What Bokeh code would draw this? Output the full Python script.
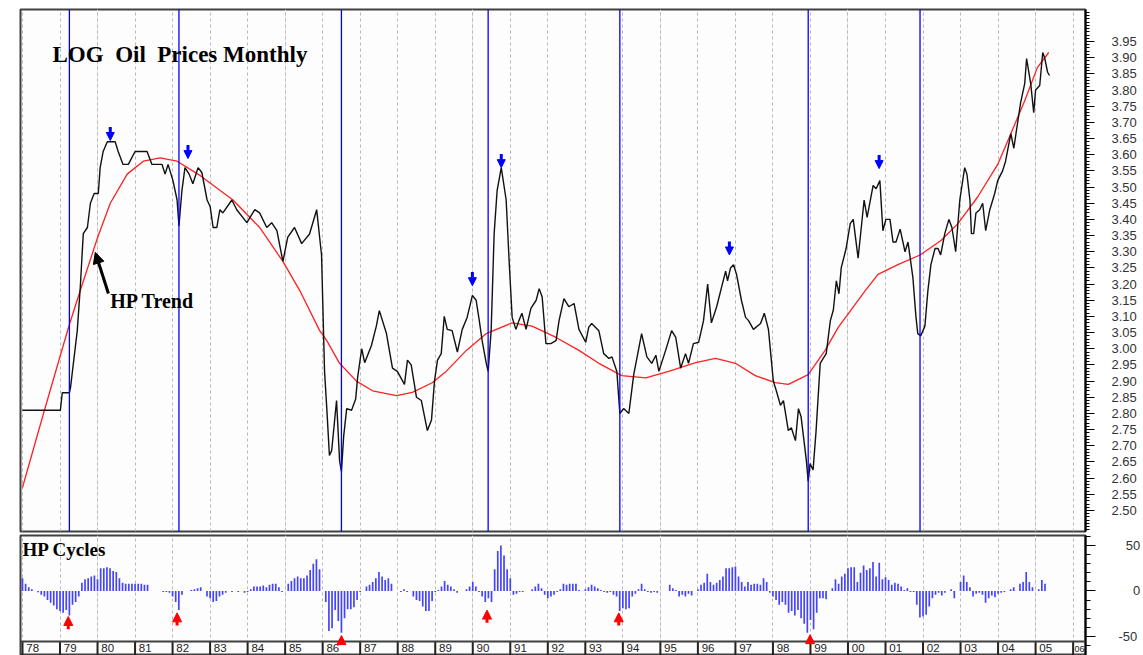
from bokeh.plotting import figure
from bokeh.layouts import column
from bokeh.models import (ColumnDataSource, FixedTicker, Span, Label, Arrow, NormalHead,
                          Range1d, Grid, NumeralTickFormatter)
from bokeh.core.properties import value
from bokeh.embed import file_html
from bokeh.resources import INLINE

# ---------------- data ----------------
price_years = [
    1978.00, 1979.01, 1979.06, 1979.25, 1979.28, 1979.46, 1979.54, 1979.62, 1979.73, 1979.81, 1979.91,
    1980.02, 1980.07, 1980.15, 1980.26, 1980.47, 1980.55, 1980.68, 1980.82, 1981.00, 1981.32, 1981.45,
    1981.72, 1981.80, 1981.88, 1982.01, 1982.12, 1982.17, 1982.25, 1982.33, 1982.44, 1982.54, 1982.68,
    1982.78, 1982.92, 1983.00, 1983.08, 1983.18, 1983.26, 1983.34, 1983.58, 1983.71, 1983.98, 1984.19,
    1984.32, 1984.51, 1984.64, 1984.78, 1984.94, 1985.07, 1985.25, 1985.44, 1985.65, 1985.84, 1985.97,
    1986.05, 1986.11, 1986.18, 1986.24, 1986.37, 1986.45, 1986.50, 1986.56, 1986.64, 1986.77, 1986.88,
    1986.93, 1987.04, 1987.12, 1987.30, 1987.43, 1987.51, 1987.70, 1987.86, 1987.99, 1988.18, 1988.26,
    1988.36, 1988.50, 1988.63, 1988.79, 1988.90, 1988.98, 1989.06, 1989.16, 1989.24, 1989.32, 1989.45,
    1989.59, 1989.72, 1989.85, 1989.99, 1990.09, 1990.17, 1990.25, 1990.36, 1990.41, 1990.49, 1990.57,
    1990.65, 1990.76, 1990.89, 1990.97, 1991.05, 1991.15, 1991.23, 1991.31, 1991.42, 1991.55, 1991.69,
    1991.77, 1991.85, 1991.95, 1992.08, 1992.22, 1992.30, 1992.43, 1992.56, 1992.70, 1992.83, 1993.01,
    1993.09, 1993.17, 1993.36, 1993.49, 1993.63, 1993.71, 1993.84, 1993.92, 1994.02, 1994.16, 1994.29,
    1994.50, 1994.64, 1994.77, 1994.88, 1994.96, 1995.14, 1995.30, 1995.41, 1995.54, 1995.67, 1995.75,
    1995.88, 1996.02, 1996.15, 1996.26, 1996.36, 1996.50, 1996.63, 1996.74, 1996.79, 1996.87, 1996.95,
    1997.03, 1997.16, 1997.27, 1997.35, 1997.48, 1997.67, 1997.77, 1997.88, 1998.01, 1998.09, 1998.20,
    1998.28, 1998.41, 1998.49, 1998.60, 1998.68, 1998.75, 1998.89, 1998.94, 1998.99, 1999.07, 1999.15,
    1999.26, 1999.34, 1999.42, 1999.53, 1999.61, 1999.69, 1999.76, 1999.82, 1999.95, 2000.06, 2000.14,
    2000.27, 2000.43, 2000.51, 2000.67, 2000.75, 2000.85, 2000.93, 2001.01, 2001.12, 2001.20, 2001.28,
    2001.39, 2001.52, 2001.60, 2001.73, 2001.81, 2001.86, 2001.94, 2002.05, 2002.13, 2002.21, 2002.32,
    2002.40, 2002.47, 2002.58, 2002.69, 2002.77, 2002.87, 2002.98, 2003.11, 2003.17, 2003.25, 2003.29,
    2003.35, 2003.41, 2003.51, 2003.59, 2003.67, 2003.78, 2003.91, 2003.99, 2004.12, 2004.20, 2004.34,
    2004.42, 2004.49, 2004.60, 2004.71, 2004.76, 2004.87, 2004.95, 2005.00, 2005.11, 2005.19, 2005.24,
    2005.32, 2005.37]
log_price = [
    2.81, 2.81, 2.864, 2.864, 2.88, 3.056, 3.19, 3.356, 3.375, 3.45, 3.48,
    3.48, 3.56, 3.61, 3.64, 3.64, 3.61, 3.57, 3.57, 3.61, 3.61, 3.57,
    3.57, 3.54, 3.57, 3.52, 3.46, 3.38, 3.49, 3.56, 3.54, 3.51, 3.56,
    3.545, 3.46, 3.44, 3.375, 3.375, 3.43, 3.42, 3.46, 3.43, 3.39, 3.43,
    3.42, 3.375, 3.39, 3.365, 3.27, 3.345, 3.375, 3.325, 3.355, 3.43, 3.29,
    2.93, 2.815, 2.67, 2.685, 2.84, 2.655, 2.62, 2.73, 2.815, 2.81, 2.845,
    2.91, 3.00, 2.957, 3.01, 3.07, 3.118, 3.047, 2.94, 2.93, 2.89, 2.965,
    2.95, 2.85, 2.84, 2.747, 2.78, 2.90, 2.965, 2.985, 3.10, 3.06, 3.056,
    2.99, 3.06, 3.097, 3.165, 3.15, 3.09, 3.025, 2.955, 2.93, 3.056, 3.356,
    3.49, 3.56, 3.46, 3.27, 3.097, 3.06, 3.087, 3.11, 3.06, 3.125, 3.15,
    3.186, 3.16, 3.016, 3.016, 3.025, 3.087, 3.155, 3.13, 3.14, 3.06, 3.02,
    3.066, 3.078, 3.056, 2.985, 2.97, 2.975, 2.93, 2.80, 2.815, 2.80, 2.92,
    3.047, 2.975, 2.955, 2.98, 2.93, 2.995, 3.056, 3.035, 2.94, 2.985, 2.955,
    3.016, 3.02, 3.087, 3.20, 3.08, 3.13, 3.19, 3.24, 3.21, 3.25, 3.26,
    3.23, 3.15, 3.097, 3.087, 3.06, 3.078, 3.11, 3.06, 2.90, 2.87, 2.825,
    2.84, 2.747, 2.756, 2.716, 2.815, 2.79, 2.655, 2.59, 2.645, 2.625, 2.747,
    2.955, 2.97, 2.985, 3.087, 3.12, 3.21, 3.17, 3.25, 3.31, 3.387, 3.40,
    3.28, 3.46, 3.406, 3.505, 3.495, 3.52, 3.365, 3.40, 3.40, 3.33, 3.33,
    3.37, 3.30, 3.33, 3.22, 3.10, 3.047, 3.04, 3.07, 3.18, 3.26, 3.31,
    3.31, 3.29, 3.356, 3.40, 3.375, 3.30, 3.46, 3.56, 3.54, 3.46, 3.356,
    3.356, 3.42, 3.43, 3.45, 3.365, 3.43, 3.48, 3.52, 3.55, 3.58, 3.665,
    3.62, 3.675, 3.76, 3.82, 3.897, 3.82, 3.73, 3.80, 3.814, 3.916, 3.90,
    3.855, 3.845]

trend_years = [1978.00, 1978.56, 1979.01, 1979.25, 1979.54, 1979.99, 1980.34, 1980.79, 1981.22,
               1981.67, 1982.12, 1982.73, 1983.61, 1984.32, 1984.94, 1985.39, 1985.92, 1986.11,
               1986.45, 1986.90, 1987.33, 1987.97, 1988.39, 1988.92, 1989.29, 1989.83, 1990.36,
               1991.05, 1991.58, 1992.22, 1992.83, 1993.36, 1993.97, 1994.61, 1995.22, 1995.94,
               1996.47, 1997.00, 1997.53, 1998.06, 1998.41, 1998.94, 1999.39, 1999.74, 2000.46,
               2000.80, 2001.33, 2001.92, 2002.48, 2002.93, 2003.46, 2003.99, 2004.34, 2004.71,
               2005.05, 2005.35]
hp_trend = [2.571, 2.80, 2.98, 3.075, 3.18, 3.34, 3.45, 3.54, 3.58,
            3.59, 3.58, 3.536, 3.46, 3.375, 3.27, 3.18, 3.056, 3.025,
            2.955, 2.90, 2.87, 2.855, 2.865, 2.895, 2.93, 2.995, 3.047,
            3.08, 3.07, 3.035, 2.995, 2.955, 2.917, 2.91, 2.93, 2.957,
            2.97, 2.955, 2.917, 2.895, 2.89, 2.92, 2.995, 3.066, 3.18,
            3.23, 3.26, 3.29, 3.335, 3.387, 3.47, 3.57, 3.665, 3.767,
            3.87, 3.916]

# HP cycle bars, monthly from Jan 1978
cycle_start_year = 1978
hp_cycles = [
    14, 8, 4, 2, 0, -1.5, -4, -6, -10, -13, -16, -20,          # 1978
    -22, -24, -21, -27, -15, -12, -6, 9, 13, 14, 16, 17,       # 1979
    13, 25, 25, 26, 25, 22, 21, 14, 9, 8, 8, 8,                # 1980
    8, 8, 8, 7, 7, 0, 0, 0, 0, -1, -1, -2,                     # 1981
    -6, -12, -21, -4, 0, 0, 1, 2, 3, 4, 0, -6,                 # 1982
    -8, -12, -11, -6, -4, -2, 0, -1, 0, -1, 0, -2,             # 1983
    -1, 2, 5, 5, 5, 6, 4, 7, 8, 8, 4, -1,                      # 1984
    0, 8, 11, 14, 16, 14, 14, 17, 23, 30, 35, 24,              # 1985
    0, -12, -44, -41, -21, -33, -46, -30, -20, -20, -18, -10,  # 1986
    -1, 0, 5, 7, 10, 14, 21, 16, 12, 14, 8, 0,                 # 1987
    0, -1, 2, -1, 0, -6, -10, -11, -17, -22, -22, -11,         # 1988
    -1, 1, 5, 11, 7, 5, 2, -2, 0, 0, 2, 5,                     # 1989
    10, 5, -1, -6, -12, -8, -12, 24, 44, 50, 39, 24,           # 1990
    14, -4, -3, -1, -1, 0, 0, 2, 5, 8, 3, -4,                  # 1991
    -8, -6, -4, -1, 2, 8, 7, 8, 8, 8, 1, 0,                    # 1992
    2, 4, 7, 5, 3, 1, -1, -2, -1, -4, -6, -22,                 # 1993
    -19, -20, -19, -6, -3, 2, 8, 2, -1, -2, -1, -2,            # 1994
    0, 0, 0, 7, 3, 1, -6, -4, -6, -3, -5, 0,                   # 1995
    2, 7, 9, 19, 10, 7, 9, 12, 16, 25, 25, 26,                 # 1996
    27, 16, 10, 5, 10, 7, 8, 8, 7, 14, 10, -2,                 # 1997
    -6, -10, -15, -12, -15, -24, -22, -27, -21, -30, -36, -46, # 1998
    -32, -42, -24, -8, -8, -9, 0, 3, 13, 8, 16, 19,            # 1999
    25, 26, 26, 10, 20, 28, 23, 25, 32, 16, 31, 13,            # 2000
    15, 12, 7, 9, 8, 5, 1, 3, -1, -1, -15, -29,                # 2001
    -28, -26, -17, -8, -4, -2, -5, -2, 0, 2, -8, 0,            # 2002
    10, 17, 10, 4, -6, -3, -2, -4, -13, -8, -5, -7,            # 2003
    -3, -2, -1, 0, 2, 4, 0, 8, 10, 21, 10, 4,                  # 2004
    0, 2, 12, 8]                                               # 2005
cycle_years = [cycle_start_year + i / 12 for i in range(len(hp_cycles))]

turning_years = [1979.25, 1982.17, 1986.50, 1990.41, 1993.92, 1998.94, 2001.92]
peak_arrow_years = [1980.34, 1982.41, 1989.99, 1990.76, 1996.84, 2000.83]
peak_arrow_tips = [3.644, 3.588, 3.195, 3.560, 3.290, 3.557]
trough_arrow_years = [1979.22, 1982.12, 1986.50, 1990.38, 1993.89, 1998.99]
trough_arrow_tips = [-28, -24, -49, -21, -24, -48]

year_ticks = list(range(1978, 2007))
year_labels = ["%02d" % (y % 100) for y in year_ticks]
price_ticks = [round(2.50 + 0.05 * k, 2) for k in range(30)]
price_minor = [round(2.44 + 0.01 * k, 2) for k in range(161)]
cycle_ticks = [-50, 0, 50]
cycle_tick_labels = {-50: "-50", 0: "\u2007\u20070", 50: "\u200750"}
cycle_minor = list(range(-60, 61, 10))

# ---------------- layout ----------------
W = 1143
x_range = Range1d(1977.947, 2006.33)
AX_FONT = "Liberation Sans"
FRAME_BG = "#fdfdfd"
BORDER = "#404040"

p = figure(width=W, height=533, x_range=x_range, y_range=Range1d(2.435, 4.049),
           x_axis_location=None, y_axis_location="right",
           output_backend="svg", toolbar_location=None,
           min_border_left=20, min_border_right=55, min_border_top=9, min_border_bottom=2,
           background_fill_color=FRAME_BG, border_fill_color="#ffffff")
p.outline_line_color = BORDER
p.outline_line_width = 2
p.ygrid.visible = False
p.add_layout(Grid(dimension=0, ticker=FixedTicker(ticks=year_ticks),
                  grid_line_color="#b8b8b8", grid_line_dash="3 3", grid_line_width=1))

ya = p.yaxis[0]
ya.ticker = FixedTicker(ticks=price_ticks, minor_ticks=price_minor)
ya.formatter = NumeralTickFormatter(format="0.00")
ya.axis_line_color = "#000000"
ya.axis_line_width = 2
ya.major_tick_out = 9
ya.major_tick_in = 0
ya.minor_tick_out = 4
ya.minor_tick_in = 0
ya.major_tick_line_color = "#000000"
ya.minor_tick_line_color = "#000000"
ya.major_label_standoff = 17
ya.major_label_text_font = AX_FONT
ya.major_label_text_font_size = "13px"
ya.major_label_text_color = "#333333"

for yr in turning_years:
    p.add_layout(Span(location=yr, dimension="height", line_color="#0000ff", line_width=1.3))

p.line(trend_years, hp_trend, line_color="#ff2020", line_width=1.3)
p.line(price_years, log_price, line_color="#111111", line_width=1.4)

peak_src = ColumnDataSource(dict(x=peak_arrow_years,
                                 y0=[t + 0.042 for t in peak_arrow_tips],
                                 y1=peak_arrow_tips))
p.add_layout(Arrow(source=peak_src, x_start="x", y_start="y0", x_end="x", y_end="y1",
                   line_color="#0000ff", line_width=3,
                   end=NormalHead(size=8, fill_color="#0000ff", line_color="#0000ff", line_width=1)))

p.add_layout(Arrow(x_start=1980.29, y_start=3.171, x_end=1979.94, y_end=3.298,
                   line_color="#000000", line_width=3,
                   end=NormalHead(size=11, fill_color="#000000", line_color="#000000", line_width=1)))

p.add_layout(Label(x=1978.80, y=3.91, text="LOG\u00a0 Oil\u00a0 Prices Monthly",
                   text_font="Liberation Serif", text_font_style="bold",
                   text_font_size="23px", text_baseline="middle", text_color="#000000"))
p.add_layout(Label(x=1980.34, y=3.149, text="HP Trend",
                   text_font="Liberation Serif", text_font_style="bold",
                   text_font_size="20px", text_baseline="middle", text_color="#000000"))

# lower panel: frame extends to the page bottom; the date strip lives below y = PANEL_BOTTOM
PANEL_BOTTOM = -55.5
q = figure(width=W, height=122, x_range=x_range, y_range=Range1d(-70.9, 61),
           x_axis_location=None, y_axis_location="right",
           output_backend="svg", toolbar_location=None,
           min_border_left=20, min_border_right=55, min_border_top=2, min_border_bottom=0,
           background_fill_color=FRAME_BG, border_fill_color="#ffffff")
q.outline_line_color = BORDER
q.outline_line_width = 2
q.ygrid.visible = False
q.add_layout(Grid(dimension=0, ticker=FixedTicker(ticks=year_ticks),
                  grid_line_color="#b8b8b8", grid_line_dash="3 3", grid_line_width=1))
q.add_layout(Span(location=PANEL_BOTTOM, dimension="width", line_color=BORDER, line_width=2))

qa = q.yaxis[0]
qa.ticker = FixedTicker(ticks=cycle_ticks, minor_ticks=cycle_minor)
qa.major_label_overrides = cycle_tick_labels
qa.axis_line_color = "#000000"
qa.axis_line_width = 2
qa.major_tick_out = 10
qa.major_tick_in = 0
qa.minor_tick_out = 5
qa.minor_tick_in = 0
qa.major_tick_line_color = "#000000"
qa.minor_tick_line_color = "#000000"
qa.major_label_standoff = 23
qa.major_label_text_font = AX_FONT
qa.major_label_text_font_size = "13px"
qa.major_label_text_color = "#333333"

q.vbar(x=cycle_years, top=hp_cycles, bottom=0, width=0.045,
       fill_color="#4444ff", line_color=None)

# date strip: separators and year labels
n = len(year_ticks)
q.segment(x0=year_ticks, y0=[PANEL_BOTTOM] * n, x1=year_ticks, y1=[-75] * n,
          line_color="#222222", line_width=2)
q.text(x=[y + 0.1 for y in year_ticks[:-1]], y=[-66.8] * (n - 1), text=year_labels[:-1],
       text_font=value(AX_FONT), text_font_size=value("11.5px"), text_color="#222222",
       text_align="left", text_baseline="bottom")
q.text(x=[year_ticks[-1] + 0.04], y=[-66.8], text=[year_labels[-1]],
       text_font=value(AX_FONT), text_font_size=value("9px"), text_color="#222222",
       text_align="left", text_baseline="bottom")

trough_src = ColumnDataSource(dict(x=trough_arrow_years,
                                   y0=[max(t - 14, PANEL_BOTTOM) for t in trough_arrow_tips],
                                   y1=trough_arrow_tips))
q.add_layout(Arrow(source=trough_src, x_start="x", y_start="y0", x_end="x", y_end="y1",
                   line_color="#ff0000", line_width=3,
                   end=NormalHead(size=9, fill_color="#ff0000", line_color="#ff0000", line_width=1)))

q.add_layout(Label(x=1978.0, y=45.6, text="HP Cycles",
                   text_font="Liberation Serif", text_font_style="bold",
                   text_font_size="19px", text_baseline="middle", text_color="#000000"))

layout = column(p, q, spacing=0)
open("out.html", "w").write(file_html(layout, INLINE))
